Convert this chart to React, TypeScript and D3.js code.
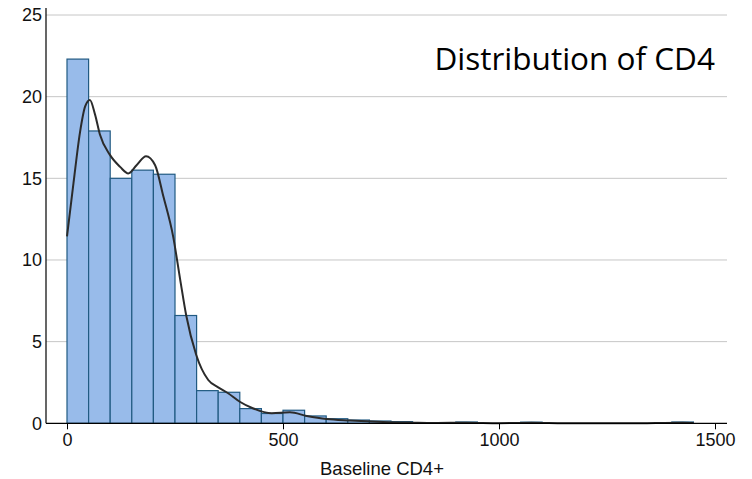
import React, { useEffect, useRef } from "react";
import * as d3 from "d3";

// histogram bins (lower edge, width 50) and percent of patients
const binStarts = [
  0, 50, 100, 150, 200, 250, 300, 350, 400, 450, 500, 550, 600, 650, 700,
  750, 800, 850, 900, 950, 1000, 1050, 1100, 1150, 1200, 1250, 1300, 1350,
  1400, 1450,
];
const binPercent = [
  22.3, 17.9, 15.0, 15.5, 15.25, 6.6, 2.0, 1.9, 0.9, 0.6, 0.8, 0.45, 0.28,
  0.2, 0.14, 0.1, 0, 0, 0.08, 0, 0, 0.07, 0, 0, 0, 0, 0, 0, 0.08, 0,
];
const binWidth = 50;

// density curve (x in CD4, y in percent scale)
const densityX = [
  0, 15, 30, 42, 53, 65, 76, 99, 123, 142, 161, 183, 204, 223, 246, 262, 276,
  299, 327, 350, 373, 400, 430, 474, 516, 555, 601, 655, 732, 800, 850, 925,
  1000, 1075, 1150, 1300, 1425, 1450,
];
const densityY = [
  11.45, 14.7, 17.8, 19.4, 19.8, 18.9, 17.7, 16.45, 15.7, 15.3, 15.8, 16.35,
  15.8, 13.9, 11.4, 8.8, 6.6, 4.2, 2.65, 2.2, 1.84, 1.32, 0.92, 0.61, 0.67,
  0.45, 0.26, 0.17, 0.08, 0.04, 0.02, 0.04, 0.01, 0.04, 0.01, 0.0, 0.04, 0.02,
];

const xTicks = [0, 500, 1000, 1500];
const yTicks = [0, 5, 10, 15, 20, 25];

const title = "Distribution of CD4";
const xLabel = "Baseline CD4+";

const App = () => {
  const svgRef = useRef(null);

  useEffect(() => {
    const width = 752,
      height = 479;
    const svg = d3.select(svgRef.current);
    svg.selectAll("*").remove();
    svg.attr("width", width).attr("height", height);

    const axisLeftX = 46,
      axisRightX = 727,
      axisTopY = 8;

    const x = d3.scaleLinear([0, 1500], [67, 715]);
    const y = d3.scaleLinear([0, 25], [423.3, 15]);

    const font = "'Liberation Sans', Arial, sans-serif";

    // grid lines
    svg
      .append("g")
      .selectAll("line")
      .data(yTicks.filter((d) => d > 0))
      .join("line")
      .attr("x1", axisLeftX)
      .attr("x2", axisRightX)
      .attr("y1", (d) => y(d))
      .attr("y2", (d) => y(d))
      .attr("stroke", "#c6c6c6")
      .attr("stroke-width", 1);

    // bars
    const bins = binStarts.map((s, i) => ({ s, v: binPercent[i] }));
    svg
      .append("g")
      .selectAll("rect")
      .data(bins.filter((d) => d.v > 0))
      .join("rect")
      .attr("x", (d) => x(d.s))
      .attr("width", (d) => x(d.s + binWidth) - x(d.s))
      .attr("y", (d) => y(d.v))
      .attr("height", (d) => y(0) - y(d.v))
      .attr("fill", "#98bbea")
      .attr("stroke", "#215a82")
      .attr("stroke-width", 1.2);

    // density curve
    const line = d3
      .line()
      .x((d) => x(d[0]))
      .y((d) => y(d[1]))
      .curve(d3.curveMonotoneX);
    svg
      .append("path")
      .datum(densityX.map((d, i) => [d, densityY[i]]))
      .attr("fill", "none")
      .attr("stroke", "#2b2b2b")
      .attr("stroke-width", 2)
      .attr("d", line);

    // axes lines
    svg
      .append("line")
      .attr("x1", axisLeftX)
      .attr("x2", axisLeftX)
      .attr("y1", axisTopY)
      .attr("y2", y(0))
      .attr("stroke", "#000")
      .attr("stroke-width", 1.2);
    svg
      .append("line")
      .attr("x1", axisLeftX)
      .attr("x2", axisRightX)
      .attr("y1", y(0))
      .attr("y2", y(0))
      .attr("stroke", "#000")
      .attr("stroke-width", 1.2);

    // x axis
    const xAxis = d3
      .axisBottom(x)
      .tickValues(xTicks)
      .tickFormat(d3.format("d"))
      .tickSize(6)
      .tickPadding(4);
    const gx = svg
      .append("g")
      .attr("transform", `translate(0,${y(0)})`)
      .call(xAxis);
    gx.select(".domain").remove();
    gx.selectAll("line").attr("stroke", "#000");
    gx.selectAll("text")
      .attr("font-family", font)
      .attr("font-size", 18)
      .attr("fill", "#111");

    // y axis
    const yAxis = d3.axisLeft(y).tickValues(yTicks).tickSize(0).tickPadding(4);
    const gy = svg
      .append("g")
      .attr("transform", `translate(${axisLeftX},0)`)
      .call(yAxis);
    gy.select(".domain").remove();
    gy.selectAll("text")
      .attr("font-family", font)
      .attr("font-size", 18)
      .attr("fill", "#111");

    // x label
    svg
      .append("text")
      .attr("x", 382)
      .attr("y", 475)
      .attr("text-anchor", "middle")
      .attr("font-family", font)
      .attr("font-size", 18.5)
      .attr("fill", "#111")
      .text(xLabel);

    // title inside the plot
    svg
      .append("text")
      .attr("x", 715)
      .attr("y", 69.5)
      .attr("text-anchor", "end")
      .attr("font-family", "'Open Sans', sans-serif")
      .attr("font-size", 31.5)
      .attr("fill", "#000")
      .text(title);
  }, []);

  return (
    <svg
      ref={svgRef}
      style={{ position: "absolute", left: 0, top: 0, display: "block" }}
    ></svg>
  );
};

export default App;
